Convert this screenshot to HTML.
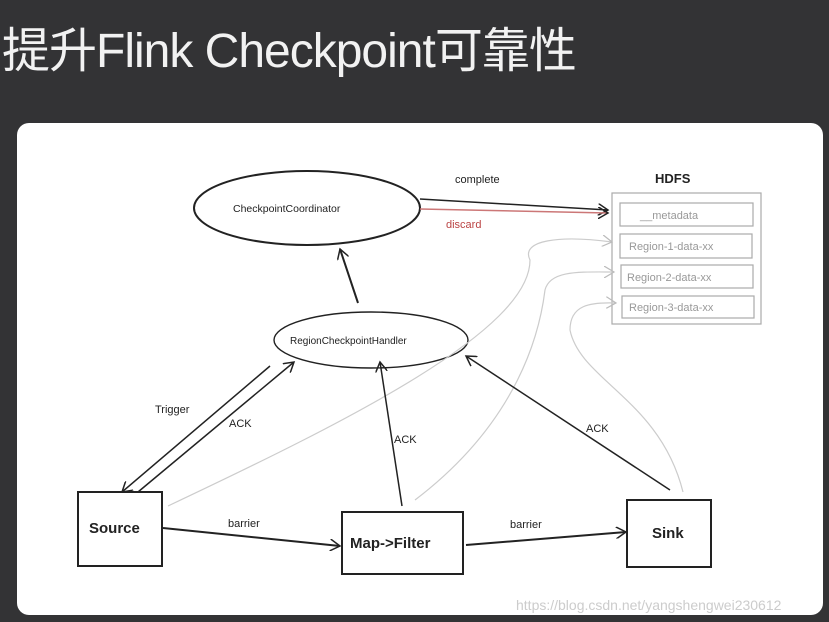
<!DOCTYPE html>
<html><head><meta charset="utf-8"><style>
body{margin:0;width:829px;height:622px;background:#333335;overflow:hidden;font-family:"Liberation Sans","Noto Sans CJK SC",sans-serif}
.t{position:absolute;left:2px;top:24px;color:#f2f2f2;font-size:48px;letter-spacing:-1px;line-height:56px}
.p{position:absolute;left:17px;top:123px;width:806px;height:492px;background:#fff;border-radius:12px}
svg{position:absolute;left:0;top:0}
text{font-family:"Liberation Sans",sans-serif}
</style></head><body>
<div class="t">提升Flink Checkpoint可靠性</div>
<div class="p"></div>
<svg width="829" height="622">
<defs><marker id="a" markerWidth="12" markerHeight="12" refX="10" refY="6" orient="auto" markerUnits="userSpaceOnUse"><path d="M0,0 L10,6 L0,12" fill="none" stroke="#222" stroke-width="1.5"/></marker>
<marker id="g" markerWidth="12" markerHeight="12" refX="10" refY="6" orient="auto" markerUnits="userSpaceOnUse"><path d="M0,0 L10,6 L0,12" fill="none" stroke="#bbb" stroke-width="1.2"/></marker></defs>
<g fill="none" stroke="#222" stroke-width="2">
<ellipse cx="307" cy="208" rx="113" ry="37"/>
<ellipse cx="371" cy="340" rx="97" ry="28" stroke-width="1.4"/>
<rect x="78" y="492" width="84" height="74"/>
<rect x="342" y="512" width="121" height="62"/>
<rect x="627" y="500" width="84" height="67"/>
</g>
<g fill="none" stroke="#aaa" stroke-width="1.2">
<rect x="612" y="193" width="149" height="131"/>
<rect x="620" y="203" width="133" height="23"/>
<rect x="620" y="234" width="132" height="24"/>
<rect x="621" y="265" width="132" height="23"/>
<rect x="622" y="296" width="132" height="22"/>
</g>
<g fill="none" stroke="#ccc" stroke-width="1.2">
<path d="M168 506 C350 420 530 330 530 260 C520 240 560 235 612 242" marker-end="url(#g)"/>
<path d="M415 500 C520 420 540 330 545 290 C550 270 580 272 614 272" marker-end="url(#g)"/>
<path d="M683 492 C660 400 580 380 570 330 C570 305 590 302 616 303" marker-end="url(#g)"/>
</g>
<g fill="none" stroke="#222" stroke-width="1.5" marker-end="url(#a)">
<line x1="420" y1="199" x2="608" y2="210"/>
<line x1="358" y1="303" x2="340" y2="249" stroke-width="2"/>
<line x1="270" y1="366" x2="122" y2="492"/>
<line x1="138" y1="492" x2="294" y2="362"/>
<line x1="402" y1="506" x2="380" y2="362"/>
<line x1="670" y1="490" x2="466" y2="356"/>
<line x1="163" y1="528" x2="340" y2="546" stroke-width="2"/>
<line x1="466" y1="545" x2="626" y2="532" stroke-width="2"/>
</g>
<line x1="420" y1="209" x2="608" y2="213" stroke="#c77" stroke-width="1.5" marker-end="url(#a)"/>
<g font-size="11" fill="#222">
<text x="233" y="212" font-size="10.5">CheckpointCoordinator</text>
<text x="290" y="344" font-size="10">RegionCheckpointHandler</text>
<text x="455" y="183">complete</text>
<text x="446" y="228" fill="#b44">discard</text>
<text x="655" y="183" font-size="13" font-weight="bold">HDFS</text>
<text x="155" y="413">Trigger</text>
<text x="229" y="427">ACK</text>
<text x="394" y="443">ACK</text>
<text x="586" y="432">ACK</text>
<text x="228" y="527">barrier</text>
<text x="510" y="528">barrier</text>
<text x="89" y="533" font-size="15" font-weight="bold">Source</text>
<text x="350" y="548" font-size="15" font-weight="bold">Map-&gt;Filter</text>
<text x="652" y="538" font-size="15" font-weight="bold">Sink</text>
</g>
<g font-size="11" fill="#999">
<text x="640" y="219">__metadata</text>
<text x="629" y="250">Region-1-data-xx</text>
<text x="627" y="281">Region-2-data-xx</text>
<text x="629" y="311">Region-3-data-xx</text>
</g>
<text x="516" y="610" font-size="14" fill="#ccc">https://blog.csdn.net/yangshengwei230612</text>
</svg>
</body></html>
